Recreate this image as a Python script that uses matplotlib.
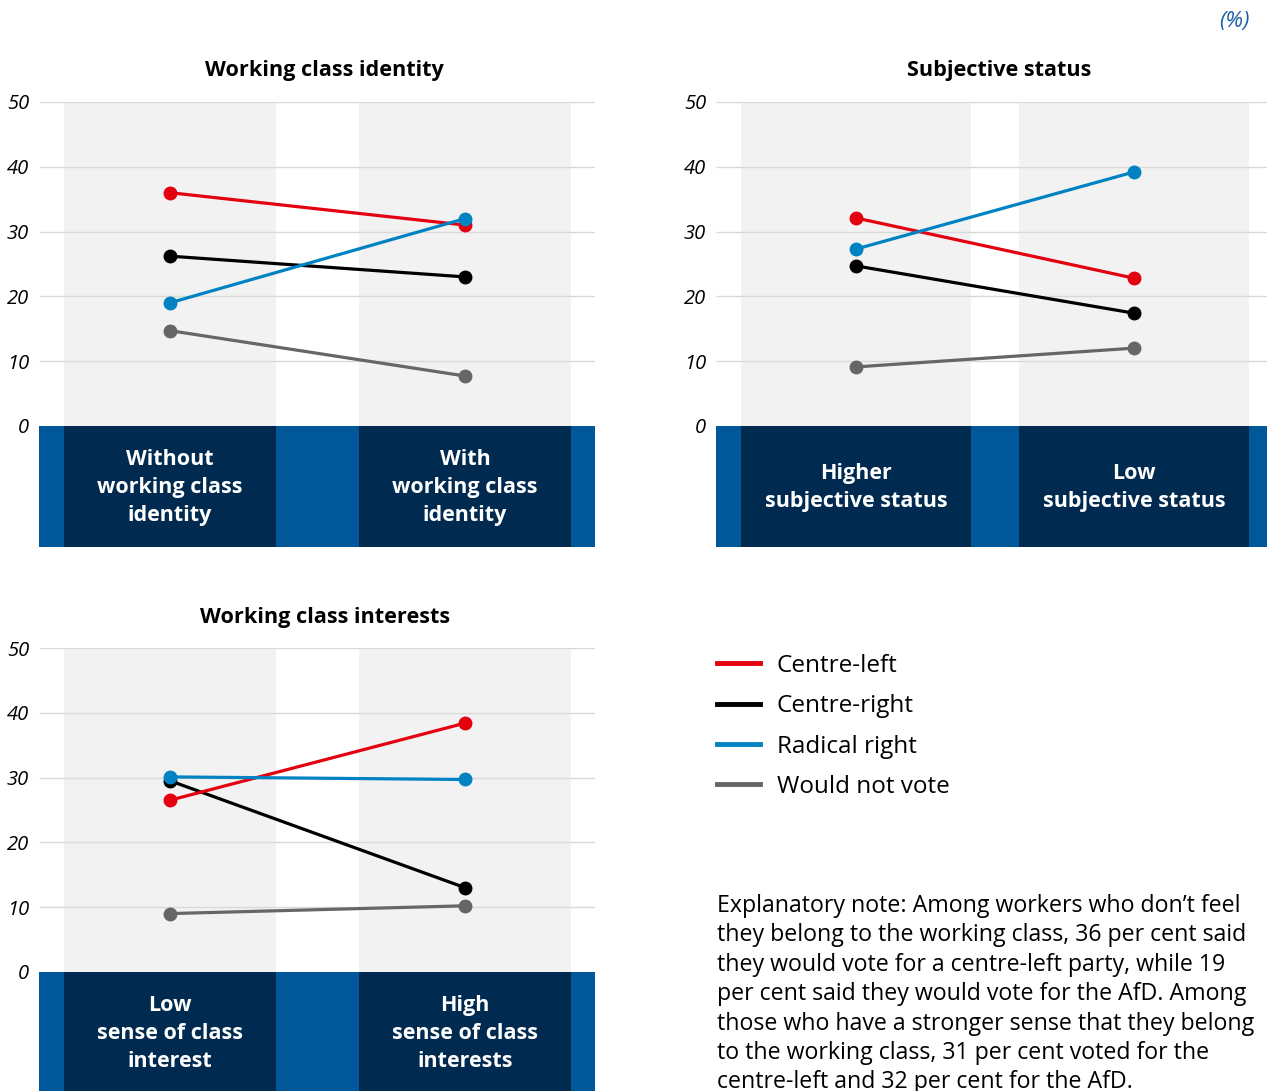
import matplotlib.pyplot as plt
from matplotlib.lines import Line2D

plt.rcParams['font.family'] = ['Open Sans', 'DejaVu Sans']

W, H = 1267, 1091

series = ["Centre-left", "Centre-right", "Radical right", "Would not vote"]
colours = ["#e3000f", "#000000", "#0082c3", "#666666"]

# working class identity: without / with
identity_groups = ["Without\nworking class\nidentity", "With\nworking class\nidentity"]
identity_centre_left = [36, 31]
identity_centre_right = [26.2, 23.0]
identity_radical_right = [19, 32]
identity_non_voters = [14.7, 7.7]

# subjective status: higher / low
status_groups = ["Higher\nsubjective status", "Low\nsubjective status"]
status_centre_left = [32.1, 22.8]
status_centre_right = [24.7, 17.4]
status_radical_right = [27.3, 39.2]
status_non_voters = [9.1, 12.0]

# working class interests: low / high
interest_groups = ["Low\nsense of class\ninterest", "High\nsense of class\ninterests"]
interest_centre_left = [26.5, 38.4]
interest_centre_right = [29.5, 13.0]
interest_radical_right = [30.1, 29.7]
interest_non_voters = [9.0, 10.2]

yticks = [0, 10, 20, 30, 40, 50]

BAND = 18.7  # depth of the label strip below zero, in value units
BAND_BLUE = "#00579a"
BAND_NAVY = "#002a50"
COL_BG = "#f2f2f2"
GRID = "#d9d9d9"

fig = plt.figure(figsize=(W / 100, H / 100), dpi=100)


def draw_panel(left, right, top, centres, half, title, groups, values):
    bottom = top + 445
    ax = fig.add_axes([left / W, 1 - bottom / H, (right - left) / W, (bottom - top) / H])
    step = centres[1] - centres[0]
    x0 = (left - centres[0]) / step
    x1 = (right - centres[0]) / step
    w = 2 * half / step
    xs = [0, 1]

    ax.bar(xs, 50, width=w, color=COL_BG, zorder=0)
    ax.hlines(yticks[1:], x0, x1, color=GRID, lw=1, zorder=1)
    ax.axhspan(-BAND, 0, color=BAND_BLUE, lw=0, zorder=2)
    ax.bar(xs, -BAND, width=w, color=BAND_NAVY, zorder=2.1)
    for x, g in zip(xs, groups):
        ax.text(x, -9.5, g, ha="center", va="center", color="white",
                fontsize=15.5, fontweight="bold", linespacing=1.46, zorder=3)

    order = [3, 1, 0, 2]
    for i in order:
        ax.plot(xs, values[i], color=colours[i], lw=2.3, marker="o",
                markersize=9, zorder=4 + order.index(i), solid_capstyle="round")

    ax.set_xlim(x0, x1)
    ax.set_ylim(-BAND, 50)
    ax.set_yticks(yticks)
    ax.set_yticklabels([str(t) for t in yticks], fontsize=14.5, fontstyle="italic")
    ax.tick_params(axis="y", length=0, pad=7)
    ax.set_xticks([])
    for s in ax.spines.values():
        s.set_visible(False)
    ax.patch.set_alpha(0)
    fig.text((left + right) / 2 / W + 0.006, 1 - (top - 31) / H, title,
             ha="center", va="center", fontsize=15.6, fontweight="bold")
    return ax


draw_panel(39, 595, 102, (170, 465), 106, "Working class identity", identity_groups,
           [identity_centre_left, identity_centre_right, identity_radical_right, identity_non_voters])
draw_panel(716, 1267, 102, (856, 1134), 115, "Subjective status", status_groups,
           [status_centre_left, status_centre_right, status_radical_right, status_non_voters])
draw_panel(39, 595, 648, (170, 465), 106, "Working class interests", interest_groups,
           [interest_centre_left, interest_centre_right, interest_radical_right, interest_non_voters])

handles = [Line2D([], [], color=c, lw=3.5) for c in colours]
fig.legend(handles, series, loc="upper left", bbox_to_anchor=(717 / W, 1 - 654 / H),
           frameon=False, fontsize=17.5, handlelength=1.75, handletextpad=0.7,
           labelspacing=0.67, borderpad=0, borderaxespad=0)

note = ("Explanatory note: Among workers who don\u2019t feel\n"
        "they belong to the working class, 36 per cent said\n"
        "they would vote for a centre-left party, while 19\n"
        "per cent said they would vote for the AfD. Among\n"
        "those who have a stronger sense that they belong\n"
        "to the working class, 31 per cent voted for the\n"
        "centre-left and 32 per cent for the AfD.")
fig.text(717 / W, 1 - 894 / H, note, ha="left", va="top", fontsize=16.7, linespacing=1.30)

fig.text(1250 / W, 1 - 21 / H, "(%)", ha="right", va="center", fontsize=16,
         fontstyle="italic", color="#1a5ea8")

fig.savefig("out.png", dpi=100)
